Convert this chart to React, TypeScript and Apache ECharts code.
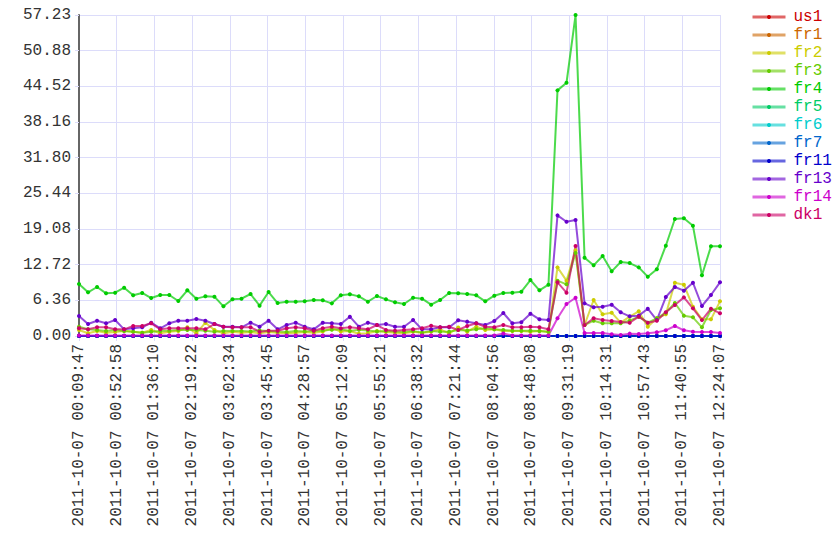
import React, { useEffect, useRef } from 'react';
import * as echarts from 'echarts';

const DATE = '2011-10-07';
const xTickLabels = ['00:09:47', '00:52:58', '01:36:10', '02:19:22', '03:02:34', '03:45:45', '04:28:57', '05:12:09', '05:55:21', '06:38:32', '07:21:44', '08:04:56', '08:48:08', '09:31:19', '10:14:31', '10:57:43', '11:40:55', '12:24:07'];
const yTickLabels = ['0.00', '6.36', '12.72', '19.08', '25.44', '31.80', '38.16', '44.52', '50.88', '57.23'];
const Y_STEP = 6.36;

const sampleTimes = [
  '00:09:47', '00:20:08', '00:30:28', '00:40:49', '00:51:09', '01:01:30', '01:11:50', '01:22:11', '01:32:31',
  '01:42:52', '01:53:13', '02:03:33', '02:13:54', '02:24:14', '02:34:35', '02:44:55', '02:55:16', '03:05:37',
  '03:15:57', '03:26:18', '03:36:38', '03:46:59', '03:57:19', '04:07:40', '04:18:00', '04:28:21', '04:38:42',
  '04:49:02', '04:59:23', '05:09:43', '05:20:04', '05:30:24', '05:40:45', '05:51:05', '06:01:26', '06:11:47',
  '06:22:07', '06:32:28', '06:42:48', '06:53:09', '07:03:29', '07:13:50', '07:24:11', '07:34:31', '07:44:52',
  '07:55:12', '08:05:33', '08:15:53', '08:26:14', '08:36:34', '08:46:55', '08:57:16', '09:07:36', '09:17:57',
  '09:28:17', '09:38:38', '09:48:58', '09:59:19', '10:09:40', '10:20:00', '10:30:21', '10:40:41', '10:51:02',
  '11:01:22', '11:11:43', '11:22:03', '11:32:24', '11:42:45', '11:53:05', '12:03:26', '12:13:46', '12:24:07',
];

const us1 = [
  0, 0, 0, 0, 0, 0, 0, 0, 0, 0, 0, 0, 0, 0, 0, 0, 0, 0,
  0, 0, 0, 0, 0, 0, 0, 0, 0, 0, 0, 0, 0, 0, 0, 0, 0, 0,
  0, 0, 0, 0, 0, 0, 0, 0, 0, 0, 0, 0, 0, 0, 0, 0, 0, 0,
  0, 0, 0, 0, 0, 0, 0, 0, 0, 0, 0, 0, 0, 0, 0, 0, 0, 0,
];
const fr1 = [
  0, 0, 0, 0, 0, 0, 0, 0, 0, 0, 0, 0, 0, 0, 0, 0, 0, 0,
  0, 0, 0, 0, 0, 0, 0, 0, 0, 0, 0, 0, 0, 0, 0, 0, 0, 0,
  0, 0, 0, 0, 0, 0, 0, 0, 0, 0, 0, 0, 0, 0, 0, 0, 0, 0,
  0, 0, 0, 0, 0, 0, 0, 0, 0, 0, 0, 0, 0, 0, 0, 0, 0, 0,
];
const fr2 = [
  1.07, 0.48, 0.89, 0.59, 0.71, 0.89, 0.77, 0.59, 1.07, 0.48, 0.77, 0.89, 1.55, 0.48, 2.38, 1.07, 0.48, 0.77,
  0.6, 0.7, 0.5, 0.7, 0.6, 0.5, 0.6, 0.7, 0.6, 0.8, 1.4, 0.8, 0.9, 0.4, 0.5, 0.9, 0.7, 0.6,
  0.48, 0.77, 0.59, 0.77, 1.19, 0.48, 1.5, 0.77, 1.66, 1.07, 1.19, 0.89, 0.89, 0.89, 0.77, 0.89, 0.71,
  12.24, 9.87, 15.3, 1.96, 6.42, 3.86, 4.16, 2.38, 3.45, 4.4, 1.66, 3.15, 3.86, 9.51, 9.15, 5.23, 2.97, 2.97, 6.18,
];
const fr3 = [
  1.66, 1.19, 1.07, 0.89, 1.07, 0.89, 0.77, 0.59, 0.77, 0.89, 0.95, 1.07, 1.07, 1.07, 0.95, 0.77, 0.89, 0.89,
  0.9, 0.8, 1.0, 0.9, 0.8, 0.7, 0.9, 0.8, 0.9, 1.0, 1.1, 1.2, 0.9, 1.1, 1.0, 0.8, 0.9, 0.8,
  0.71, 0.89, 0.6, 0.9, 0.77, 0.77, 1.07, 1.0, 1.19, 1.37, 1.19, 1.07, 0.95, 0.95, 0.95, 0.9, 0.77,
  9.87, 9.21, 14.8, 1.96, 2.73, 2.26, 2.26, 2.26, 2.73, 3.45, 2.38, 3.15, 4.16, 5.88, 3.63, 3.33, 1.55, 4.64, 4.93,
];
const fr4 = [
  9.27, 7.79, 8.74, 7.61, 7.73, 8.62, 7.25, 7.67, 6.77, 7.31, 7.31, 6.24, 8.14, 6.66, 7.07, 7.01, 5.29, 6.54,
  6.66, 7.49, 5.41, 7.84, 5.88, 6.12, 6.12, 6.18, 6.42, 6.36, 5.82, 7.25, 7.43, 7.07, 6.12, 7.13, 6.54, 6.0,
  5.71, 6.83, 6.66, 5.59, 6.42, 7.67, 7.61, 7.49, 7.25, 6.18, 7.19, 7.67, 7.73, 7.9, 9.98, 8.14, 9.15,
  43.8, 45.16, 57.23, 13.97, 12.6, 14.26, 11.53, 13.19, 13.01, 12.24, 10.58, 11.89, 16.1, 20.86, 20.98, 19.67, 10.82, 15.99, 15.99,
];
const fr5 = [
  0, 0, 0, 0, 0, 0, 0, 0, 0, 0, 0, 0, 0, 0, 0, 0, 0, 0,
  0, 0, 0, 0, 0, 0, 0, 0, 0, 0, 0, 0, 0, 0, 0, 0, 0, 0,
  0, 0, 0, 0, 0, 0, 0, 0, 0, 0, 0, 0, 0, 0, 0, 0, 0, 0,
  0, 0, 0, 0, 0, 0, 0, 0, 0, 0, 0, 0, 0, 0, 0, 0, 0, 0,
];
const fr6 = [
  0, 0, 0, 0, 0, 0, 0, 0, 0, 0, 0, 0, 0, 0, 0, 0, 0, 0,
  0, 0, 0, 0, 0, 0, 0, 0, 0, 0, 0, 0, 0, 0, 0, 0, 0, 0,
  0, 0, 0, 0, 0, 0, 0, 0, 0, 0, 0, 0, 0, 0, 0, 0, 0, 0,
  0, 0, 0, 0, 0, 0, 0, 0, 0, 0, 0, 0, 0, 0, 0, 0, 0, 0,
];
const fr7 = [
  0, 0, 0, 0, 0, 0, 0, 0, 0, 0, 0, 0, 0, 0, 0, 0, 0, 0,
  0, 0, 0, 0, 0, 0, 0, 0, 0, 0, 0, 0, 0, 0, 0, 0, 0, 0,
  0, 0, 0, 0, 0, 0, 0, 0, 0, 0, 0, 0, 0, 0, 0, 0, 0, 0,
  0, 0, 0, 0, 0, 0, 0, 0, 0, 0, 0, 0, 0, 0, 0, 0, 0, 0,
];
const fr11 = [
  0, 0, 0, 0, 0, 0, 0, 0, 0, 0, 0, 0, 0, 0, 0, 0, 0, 0,
  0, 0, 0, 0, 0, 0, 0, 0, 0, 0, 0, 0, 0, 0, 0, 0, 0, 0,
  0, 0, 0, 0, 0, 0, 0, 0, 0, 0, 0, 0, 0, 0, 0, 0, 0, 0,
  0, 0, 0, 0, 0, 0, 0, 0, 0, 0, 0, 0, 0, 0, 0, 0, 0, 0,
];
const fr13 = [
  3.57, 2.14, 2.73, 2.26, 2.85, 1.19, 1.37, 1.55, 2.38, 1.37, 2.26, 2.73, 2.73, 3.03, 2.73, 2.14, 1.66, 1.66,
  1.55, 2.38, 1.66, 2.73, 1.19, 1.96, 2.38, 1.66, 1.19, 2.38, 2.26, 2.14, 3.45, 1.66, 2.38, 1.96, 2.14, 1.66,
  1.66, 2.85, 1.19, 1.19, 1.55, 1.55, 2.79, 2.56, 2.26, 1.96, 2.67, 4.1, 2.26, 2.44, 3.98, 2.97, 2.85,
  21.51, 20.38, 20.68, 5.82, 5.11, 5.23, 5.59, 4.22, 3.51, 3.63, 4.87, 2.85, 6.95, 8.74, 8.08, 9.51, 5.35, 7.31, 9.57,
];
const fr14 = [
  0.1, 0.1, 0.1, 0.1, 0.1, 0.1, 0.1, 0.1, 0.1, 0.1, 0.1, 0.1, 0.1, 0.1, 0.1, 0.1, 0.1, 0.1,
  0.1, 0.1, 0.1, 0.1, 0.1, 0.1, 0.1, 0.1, 0.1, 0.1, 0.1, 0.1, 0.1, 0.1, 0.1, 0.1, 0.1, 0.1,
  0.1, 0.1, 0.1, 0.1, 0.1, 0.1, 0.1, 0.1, 0.1, 0.1, 0.1, 0.45, 0.1, 0.1, 0.1, 0.1, 0.1,
  3.15, 5.71, 6.83, 0.53, 0.53, 0.53, 0.3, 0.18, 0.42, 0.36, 0.48, 0.65, 1.01, 1.78, 1.01, 0.77, 0.71, 0.71, 0.53,
];
const dk1 = [
  1.37, 1.19, 1.55, 1.55, 1.19, 1.19, 1.78, 1.78, 2.26, 1.19, 1.37, 1.37, 1.37, 1.37, 1.19, 2.14, 1.66, 1.55,
  1.55, 1.55, 0.77, 0.95, 0.95, 1.37, 1.55, 1.37, 0.95, 1.37, 1.66, 1.37, 1.55, 1.37, 1.19, 1.96, 1.07, 0.95,
  1.07, 1.19, 1.37, 1.84, 1.55, 1.66, 1.07, 1.78, 2.26, 1.66, 1.55, 1.96, 1.55, 1.55, 1.66, 1.55, 1.19,
  9.57, 7.73, 16.05, 1.96, 3.15, 2.85, 2.67, 2.5, 2.38, 3.45, 2.38, 2.73, 4.22, 5.53, 6.89, 4.93, 2.85, 4.87, 4.04,
];

const seriesNames = ['us1', 'fr1', 'fr2', 'fr3', 'fr4', 'fr5', 'fr6', 'fr7', 'fr11', 'fr13', 'fr14', 'dk1'];
const seriesValues = [us1, fr1, fr2, fr3, fr4, fr5, fr6, fr7, fr11, fr13, fr14, dk1];
const seriesColors = ['#cc0000', '#cc6600', '#cccc00', '#66cc00', '#00cc00', '#00cc66', '#00cccc', '#0066cc', '#0000cc', '#6600cc', '#cc00cc', '#cc0066'];

const FONT = 'Liberation Mono, Courier New, monospace';

function toSec(t: string): number {
  const [h, m, s] = t.split(':').map(Number);
  return h * 3600 + m * 60 + s;
}

export default function App() {
  const ref = useRef<HTMLDivElement>(null);
  useEffect(() => {
    if (!ref.current) return;
    const chart = echarts.init(ref.current, undefined, { renderer: 'svg' });
    const tStart = toSec(xTickLabels[0]);
    const tEnd = toSec(xTickLabels[xTickLabels.length - 1]);
    const unit = (tEnd - tStart) / (xTickLabels.length - 1);
    const toX = (t: string) => (toSec(t) - tStart) / unit;
    const gridColor = '#dcdcfa';
    chart.setOption({
      animation: false,
      backgroundColor: '#ffffff',
      grid: { left: 79, right: 120, top: 15, bottom: 224, containLabel: false },
      legend: {
        orient: 'vertical',
        left: 751,
        top: 9,
        padding: 0,
        itemWidth: 33,
        itemHeight: 5,
        itemGap: 2,
        selectedMode: false,
        lineStyle: { width: 3, opacity: 0.6 },
        data: seriesNames.map((n, i) => ({
          name: n,
          textStyle: { color: seriesColors[i] },
        })),
        textStyle: { fontFamily: FONT, fontSize: 16, lineHeight: 14, padding: [0, 0, 0, 3] },
      },
      xAxis: {
        type: 'value',
        min: 0,
        max: xTickLabels.length - 1,
        interval: 1,
        axisLine: { show: true, lineStyle: { color: gridColor, width: 1 } },
        axisTick: { show: true, length: 5, lineStyle: { color: gridColor } },
        splitLine: { show: true, lineStyle: { color: gridColor, width: 1 } },
        axisLabel: {
          rotate: 90,
          margin: 8,
          fontFamily: FONT,
          fontSize: 16,
          color: '#333',
          showMinLabel: true,
          showMaxLabel: true,
          formatter: (v: number) => `${DATE} ${xTickLabels[Math.round(v)]}`,
        },
      },
      yAxis: {
        type: 'value',
        min: 0,
        max: Y_STEP * (yTickLabels.length - 1),
        interval: Y_STEP,
        axisLine: { show: true, lineStyle: { color: '#666', width: 2 } },
        axisTick: { show: true, length: 4, lineStyle: { color: gridColor } },
        splitLine: { show: true, lineStyle: { color: gridColor, width: 1 } },
        axisLabel: {
          margin: 8,
          fontFamily: FONT,
          fontSize: 16,
          color: '#333',
          showMinLabel: true,
          showMaxLabel: true,
          formatter: (v: number) => yTickLabels[Math.round(v / Y_STEP)] ?? '',
        },
      },
      series: seriesNames.map((name, si) => ({
        name,
        type: 'line',
        data: sampleTimes.map((t, i) => [toX(t), seriesValues[si][i]]),
        symbol: 'circle',
        symbolSize: 4,
        showSymbol: true,
        lineStyle: { width: 2, color: seriesColors[si], opacity: 0.7 },
        itemStyle: { color: seriesColors[si] },
        emphasis: { disabled: true },
      })),
    });
    return () => chart.dispose();
  }, []);
  return (
    <div
      ref={ref}
      style={{ position: 'absolute', left: 0, top: 0, width: 840, height: 560, background: '#fff' }}
    />
  );
}
